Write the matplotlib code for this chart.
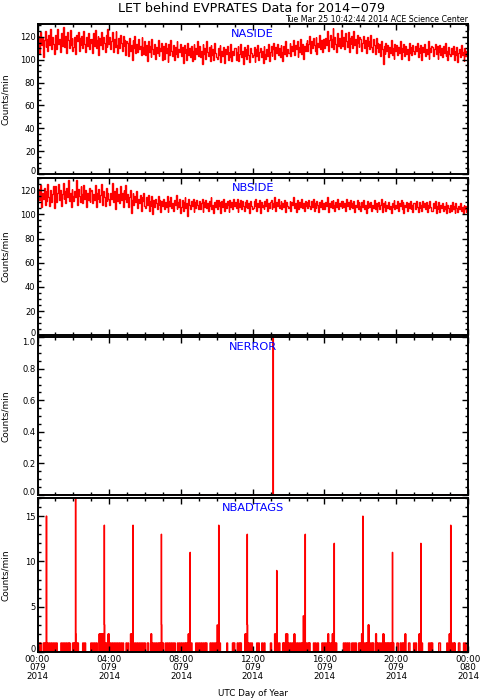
import numpy as np
import matplotlib
matplotlib.use('Agg')
import matplotlib.pyplot as plt
from matplotlib.ticker import MultipleLocator
from matplotlib.transforms import ScaledTranslation

# 3-minute samples, one row per hour (00:00 .. 23:00 UTC, day 079)
naside = [
    110, 121, 106, 124, 113, 119, 102, 117, 125, 111, 118, 108, 122, 113, 127, 109, 120, 114, 105, 119,
    122, 109, 127, 114, 118, 107, 123, 112, 129, 115, 111, 121, 106, 124, 117, 110, 126, 113, 119, 108,
    111, 120, 105, 122, 116, 124, 108, 119, 113, 121, 110, 125, 114, 107, 120, 112, 123, 109, 118, 115,
    118, 106, 123, 112, 126, 110, 117, 121, 104, 119, 113, 124, 109, 120, 115, 107, 122, 111, 127, 114,
    120, 109, 116, 124, 107, 118, 111, 125, 113, 106, 119, 110, 122, 115, 108, 121, 112, 117, 104, 116,
    115, 103, 119, 108, 113, 100, 117, 110, 121, 106, 114, 107, 118, 109, 112, 104, 120, 111, 105, 116,
    104, 113, 99, 116, 107, 112, 102, 118, 109, 105, 114, 101, 111, 106, 117, 103, 110, 108, 115, 100,
    112, 101, 115, 106, 110, 98, 114, 104, 117, 108, 103, 113, 100, 111, 105, 116, 102, 109, 107, 114,
    103, 111, 97, 113, 106, 109, 100, 115, 104, 110, 102, 112, 99, 108, 114, 101, 110, 105, 116, 103,
    112, 102, 108, 96, 114, 105, 110, 101, 116, 107, 103, 111, 99, 113, 104, 109, 100, 115, 106, 102,
    101, 110, 104, 113, 98, 108, 103, 111, 97, 109, 105, 112, 100, 107, 102, 114, 99, 108, 104, 110,
    110, 100, 107, 112, 99, 105, 114, 102, 108, 96, 111, 103, 109, 101, 113, 104, 98, 110, 106, 102,
    104, 111, 98, 109, 103, 113, 100, 107, 110, 102, 108, 97, 112, 105, 101, 109, 103, 114, 99, 107,
    112, 103, 109, 115, 101, 111, 106, 114, 104, 110, 102, 113, 107, 99, 112, 105, 116, 103, 109, 106,
    106, 115, 103, 112, 108, 117, 104, 113, 109, 116, 102, 111, 107, 118, 105, 114, 101, 112, 108, 115,
    117, 108, 114, 121, 106, 116, 110, 119, 113, 108, 120, 105, 115, 111, 122, 109, 117, 107, 118, 113,
    110, 119, 113, 125, 108, 117, 122, 111, 118, 128, 109, 120, 114, 107, 123, 112, 119, 110, 126, 115,
    112, 120, 109, 123, 116, 111, 124, 107, 119, 114, 121, 110, 125, 113, 118, 106, 122, 115, 111, 120,
    118, 108, 115, 121, 110, 117, 106, 120, 112, 116, 109, 122, 111, 107, 118, 113, 105, 119, 110, 115,
    107, 114, 103, 116, 109, 96, 112, 105, 115, 108, 113, 102, 111, 106, 117, 104, 110, 101, 114, 108,
    113, 104, 111, 106, 116, 101, 110, 107, 114, 103, 112, 105, 109, 100, 115, 106, 111, 104, 113, 108,
    105, 112, 108, 115, 102, 110, 106, 113, 100, 111, 107, 114, 103, 109, 105, 116, 101, 110, 107, 112,
    111, 103, 109, 114, 105, 112, 101, 107, 113, 104, 110, 102, 112, 106, 115, 103, 108, 100, 111, 105,
    103, 110, 105, 112, 100, 108, 104, 111, 98, 106, 109, 102, 113, 104, 107, 99, 110, 103, 108, 102,
]

nbside = [
    109, 121, 112, 124, 106, 118, 113, 122, 108, 119, 111, 125, 114, 107, 120, 110, 117, 123, 105, 116,
    123, 110, 118, 125, 112, 120, 107, 117, 126, 113, 119, 109, 122, 114, 128, 111, 118, 106, 121, 115,
    111, 119, 114, 128, 108, 121, 115, 110, 123, 117, 109, 124, 113, 120, 106, 118, 112, 122, 110, 119,
    120, 109, 117, 112, 124, 106, 118, 113, 121, 110, 116, 125, 108, 119, 114, 107, 122, 111, 118, 113,
    108, 118, 113, 126, 110, 119, 104, 116, 122, 111, 117, 109, 123, 112, 118, 106, 120, 113, 124, 110,
    117, 106, 114, 120, 101, 112, 118, 108, 115, 110, 119, 105, 113, 109, 116, 103, 114, 111, 118, 107,
    105, 114, 108, 116, 103, 111, 107, 115, 100, 112, 106, 113, 109, 104, 115, 108, 112, 102, 111, 107,
    113, 104, 110, 106, 115, 102, 111, 107, 114, 105, 109, 103, 112, 108, 116, 104, 110, 106, 113, 101,
    106, 112, 103, 110, 114, 105, 109, 99, 113, 108, 104, 111, 107, 113, 102, 110, 105, 112, 108, 104,
    111, 104, 109, 113, 102, 110, 106, 112, 105, 109, 103, 111, 107, 114, 104, 108, 101, 110, 106, 112,
    104, 112, 107, 110, 101, 111, 106, 113, 103, 109, 105, 111, 108, 102, 112, 106, 110, 104, 113, 107,
    110, 105, 113, 102, 109, 106, 112, 104, 111, 107, 103, 110, 106, 112, 105, 109, 101, 111, 107, 104,
    105, 111, 107, 113, 103, 109, 106, 112, 101, 110, 106, 108, 104, 111, 107, 113, 103, 109, 105, 110,
    112, 104, 109, 106, 114, 103, 110, 107, 113, 105, 108, 111, 104, 109, 106, 112, 102, 110, 107, 105,
    106, 111, 103, 110, 108, 114, 105, 109, 102, 112, 107, 104, 110, 106, 113, 105, 109, 103, 111, 107,
    110, 105, 112, 107, 104, 111, 106, 113, 103, 109, 105, 111, 108, 102, 110, 106, 112, 104, 109, 106,
    104, 110, 107, 114, 102, 109, 106, 111, 105, 112, 108, 103, 110, 106, 113, 104, 109, 107, 111, 105,
    111, 106, 109, 103, 113, 107, 110, 104, 112, 106, 109, 105, 111, 102, 108, 106, 112, 104, 110, 107,
    103, 110, 106, 112, 104, 108, 101, 111, 105, 109, 106, 110, 103, 108, 105, 112, 104, 109, 102, 107,
    110, 104, 108, 113, 102, 109, 106, 111, 103, 108, 105, 110, 104, 107, 101, 109, 106, 112, 104, 108,
    105, 111, 103, 109, 107, 112, 104, 110, 101, 108, 106, 110, 103, 109, 105, 111, 104, 108, 102, 109,
    109, 104, 111, 106, 102, 110, 105, 108, 103, 111, 106, 109, 104, 110, 102, 108, 105, 111, 106, 103,
    103, 109, 105, 111, 101, 107, 104, 110, 102, 108, 105, 109, 103, 107, 104, 110, 101, 108, 105, 102,
    108, 103, 110, 104, 107, 101, 109, 105, 102, 107, 104, 109, 103, 106, 101, 108, 104, 107, 102, 104,
]

# NERROR: minute of day -> count (zero elsewhere)
nerror_min = [788]
nerror_cnt = [1]

# NBADTAGS: runs of 1 count/min  (start minute, end minute)
nbad_ones = [
    (0, 3), (5, 8), (10, 12), (19, 22), (24, 27),
    (33, 36), (39, 42), (45, 48), (51, 54), (57, 60), (63, 66),
    (78, 81), (84, 87), (90, 93), (96, 99), (102, 105), (107, 109),
    (117, 120), (122, 125), (130, 133), (135, 137), (151, 154), (157, 161),
    (178, 181), (184, 187), (190, 193), (196, 200), (225, 228), (230, 233),
    (243, 246), (249, 252), (255, 258), (261, 264), (267, 270), (273, 276),
    (279, 282), (285, 288), (296, 299), (302, 305),
    (321, 324), (327, 330), (333, 336), (339, 342), (345, 348), (351, 354), (357, 361),
    (367, 372), (385, 388), (391, 394), (397, 400), (403, 406), (408, 411), (417, 422),
    (428, 431), (434, 437), (440, 443), (446, 449), (452, 455), (458, 461),
    (468, 471), (474, 477), (480, 483), (486, 489), (492, 495), (497, 500), (513, 517),
    (529, 532), (535, 538), (541, 544), (547, 550), (553, 556), (559, 562), (564, 567),
    (577, 580), (583, 586), (589, 592), (595, 598), (609, 612), (633, 636),
    (652, 655), (657, 660), (668, 671), (674, 677), (679, 682),
    (704, 707), (710, 713), (716, 719), (733, 736), (739, 742), (750, 753), (757, 761),
    (779, 783), (802, 805), (808, 811), (820, 823), (824, 827),
    (839, 842), (845, 848), (851, 855), (862, 865), (868, 871), (874, 877), (880, 883), (885, 887),
    (893, 896), (899, 902), (905, 908), (909, 912), (923, 926), (929, 932), (936, 940),
    (951, 954), (957, 960), (963, 967), (975, 978), (981, 984), (994, 997), (999, 1001),
    (1023, 1026), (1029, 1032), (1035, 1038), (1041, 1045), (1051, 1054), (1057, 1060), (1063, 1067),
    (1074, 1077), (1079, 1082), (1091, 1094), (1097, 1100), (1101, 1104),
    (1111, 1114), (1117, 1120), (1122, 1125), (1136, 1139), (1142, 1145), (1148, 1151),
    (1156, 1159), (1161, 1164), (1166, 1169), (1171, 1174), (1176, 1179), (1181, 1184), (1190, 1192),
    (1202, 1207), (1213, 1216), (1219, 1222), (1224, 1227), (1241, 1246), (1258, 1261), (1264, 1268),
    (1285, 1288), (1308, 1311), (1314, 1317), (1319, 1322), (1342, 1348), (1369, 1372),
    (1385, 1388), (1391, 1394), (1395, 1397), (1408, 1413), (1425, 1428), (1431, 1434),
]
# NBADTAGS: single minutes with higher counts
nbad_min = [29, 30, 127, 128, 206, 208, 211, 214, 217, 220, 223, 224, 236, 239,
            311, 314, 316, 319, 379, 381, 414, 415, 504, 507, 510, 601, 606,
            694, 697, 701, 702, 793, 796, 800, 830, 833, 836, 858, 860, 889, 895,
            971, 973, 986, 988, 992, 1084, 1086, 1088, 1106, 1108, 1131, 1133,
            1155, 1158, 1187, 1229, 1231, 1276, 1278, 1282, 1377, 1379, 1382]
nbad_cnt = [15, 15, 17, 2, 2, 2, 2, 2, 2, 2, 14, 3, 2, 2,
            2, 2, 2, 14, 2, 2, 13, 3, 2, 2, 11, 3, 14,
            2, 2, 13, 3, 2, 2, 9, 2, 2, 2, 2, 2, 4, 13,
            2, 2, 2, 2, 12, 2, 2, 15, 3, 3, 2, 2,
            2, 2, 11, 2, 2, 2, 2, 12, 2, 2, 14]

xtick_hours = [0, 4, 8, 12, 16, 20, 24]
xtick_labels = ['00:00\n079\n2014', '04:00\n079\n2014', '08:00\n079\n2014',
                '12:00\n079\n2014', '16:00\n079\n2014', '20:00\n079\n2014',
                '00:00\n080\n2014']

# build per-minute arrays
nerror = np.zeros(1440)
nerror[nerror_min] = nerror_cnt
nbad = np.zeros(1440)
for a, b in nbad_ones:
    nbad[a:b] = 1
nbad[nbad_min] = nbad_cnt

W, H = 481, 700
plt.rcParams['font.family'] = 'DejaVu Sans'
fig = plt.figure(figsize=(W / 100, H / 100), dpi=100)

# panel boxes in pixels: (top, bottom)
boxes = [(24.3, 174), (178, 335.3), (337.3, 494.7), (498, 652)]
left, right = 37.5, 468

panels = [
    ('NASIDE', naside, np.linspace(0, 24, len(naside) + 1), (0, 131), 20, 5, '{:.0f}'),
    ('NBSIDE', nbside, np.linspace(0, 24, len(nbside) + 1), (0, 130), 20, 5, '{:.0f}'),
    ('NERROR', nerror, np.arange(1441) / 60, (0, 1), 0.2, 0.05, '{:.1f}'),
    ('NBADTAGS', nbad, np.arange(1441) / 60, (0, 17), 5, 1, '{:.0f}'),
]

def shift(txt, dy_px):
    txt.set_transform(txt.get_transform() +
                      ScaledTranslation(0, dy_px / 100, fig.dpi_scale_trans))

for i, (name, vals, edges, ylim, maj, mnr, fmt) in enumerate(panels):
    top, bot = boxes[i]
    ax = fig.add_axes([left / W, 1 - bot / H, (right - left) / W, (bot - top) / H])
    ax.stairs(vals, edges, baseline=None, color='red', lw=1.0,
              clip_on=(i < 2))
    ax.set_xlim(0, 24)
    ax.set_ylim(*ylim)
    ax.xaxis.set_major_locator(MultipleLocator(4))
    ax.xaxis.set_minor_locator(MultipleLocator(1))
    ax.yaxis.set_minor_locator(MultipleLocator(mnr))
    ticks = np.arange(ylim[0], ylim[1] + 1e-9, maj)
    ax.set_yticks(ticks)
    ax.set_yticklabels([fmt.format(t) for t in ticks])
    ax.tick_params(which='both', direction='in', top=True, right=True,
                   width=1.0, labelsize=6, pad=1.5)
    ax.tick_params(which='major', length=4)
    ax.tick_params(which='minor', length=2.2)
    for s in ax.spines.values():
        s.set_linewidth(1.4)
    labs = ax.get_yticklabels()
    shift(labs[0], 3)
    if abs(ticks[-1] - ylim[1]) < 1e-9:
        shift(labs[-1], -4)
    ax.text(0.5, 1 - 10 / (bot - top), name, transform=ax.transAxes,
            ha='center', va='center', color='#0000ff', fontsize=8.2)
    fig.text(5.5 / W, 1 - (top + bot) / 2 / H, 'Counts/min', rotation=90,
             ha='center', va='center', fontsize=6.5)
    if i == 3:
        ax.set_xticks(xtick_hours)
        ax.set_xticklabels(xtick_labels, fontsize=6.3, linespacing=0.95)
        ax.tick_params(axis='x', which='major', pad=2)
        ax.set_xlabel('UTC Day of Year', fontsize=6.3, labelpad=6)
    else:
        ax.set_xticklabels([])

fig.text(252 / W, 1 - 8 / H, 'LET behind EVPRATES Data for 2014\u2212079',
         ha='center', va='center', fontsize=9.2)
fig.text(right / W, 1 - 19.5 / H, 'Tue Mar 25 10:42:44 2014 ACE Science Center',
         ha='right', va='center', fontsize=5.7)

fig.savefig('out.png', dpi=100)
